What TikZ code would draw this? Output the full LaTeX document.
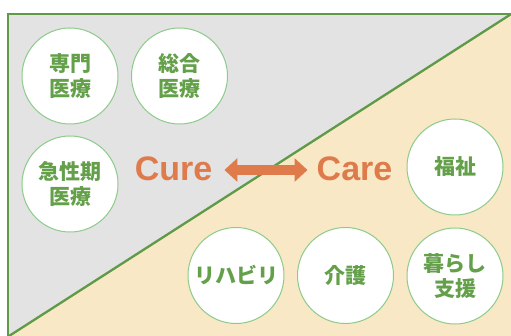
\documentclass[tikz,border=0pt]{standalone}
\usepackage{fontspec}
\setmainfont{Liberation Sans}
\newfontfamily\jpfont{Noto Sans CJK JP}
\usetikzlibrary{arrows.meta}
\definecolor{grayfill}{HTML}{E3E3E3}
\definecolor{beige}{HTML}{F8E8C5}
\definecolor{txtgreen}{HTML}{64A04A}
\definecolor{ringgreen}{HTML}{8DCB8A}
\definecolor{framegreen}{HTML}{5E9A47}
\definecolor{orangec}{HTML}{DF7A4B}
\tikzset{
  bubble/.style={circle, draw=ringgreen, line width=1pt, fill=white, minimum size=96pt, inner sep=0pt,
    text=txtgreen, font=\jpfont\bfseries\fontsize{21}{25}\selectfont, align=center},
  bigword/.style={text=orangec, font=\bfseries\fontsize{34}{40}\selectfont, inner sep=0pt}
}
\begin{document}
\begin{tikzpicture}[x=1pt,y=-1pt]
\useasboundingbox (0,0) rectangle (511,336);
\begin{scope}
\clip (0,0) rectangle (511,336);
\fill[grayfill] (7.5,14) rectangle (530,350);
\fill[beige] (7.5,336) -- (511,14) -- (530,14) -- (530,350) -- (7.5,350) -- cycle;
\draw[framegreen, line width=2pt] (7.5,14) rectangle (530,350);
\draw[framegreen, line width=2.3pt] (7.5,337) -- (512,13.5);
\end{scope}
\node[bubble] (senmon) at (70,76) {専門\\医療};
\node[bubble] (sogo) at (179.5,76) {総合\\医療};
\node[bubble] (kyusei) at (70,184) {急性期\\医療};
\node[bubble] (fukushi) at (455,167) {福祉};
\node[bubble] (riha) at (236,275.5) {リハビリ};
\node[bubble] (kaigo) at (345.5,275.5) {介護};
\node[bubble] (kurashi) at (455,276) {暮らし\\支援};
\node[bigword, anchor=base] (cure) at (173.5,181) {Cure};
\node[bigword, anchor=base] (care) at (354.5,181) {Care};
\draw[orangec, line width=10pt, {Triangle[width=23pt,length=13pt]}-{Triangle[width=23pt,length=13pt]},
  shorten <=12pt, shorten >=9pt] (cure.east |- 0,170) -- (care.west |- 0,170);
\end{tikzpicture}
\end{document}
